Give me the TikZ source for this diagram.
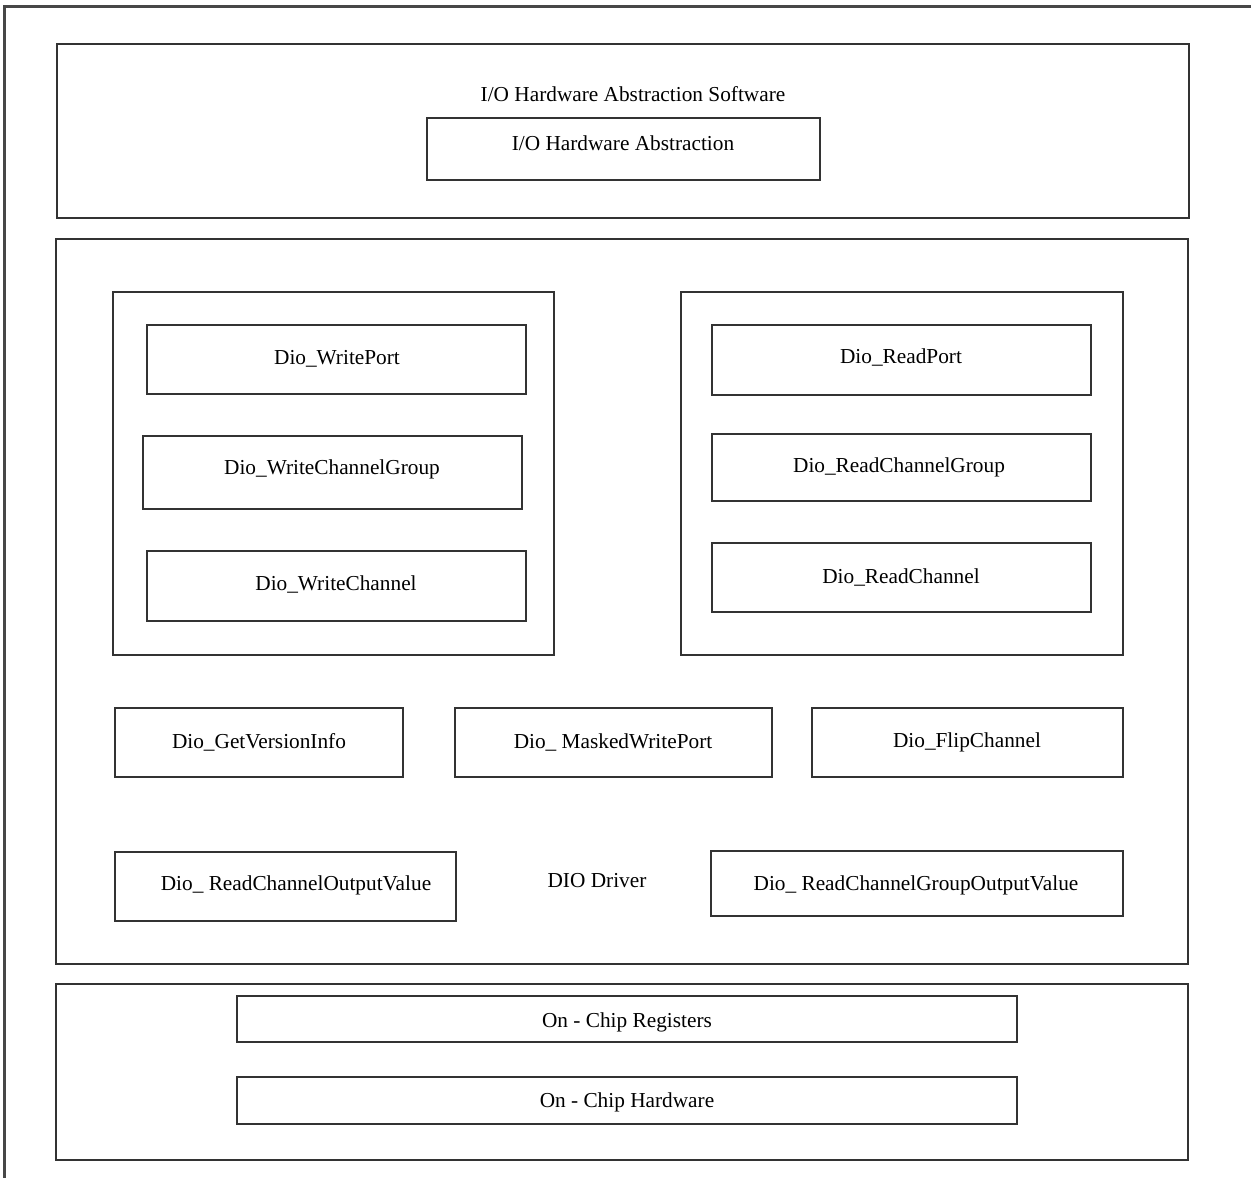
\documentclass[tikz,border=0pt]{standalone}
\usepackage{fontspec}
\setmainfont{Liberation Serif}
\begin{document}
\begin{tikzpicture}[x=1pt,y=-1pt,
  frame/.style={draw=black!80, line width=1.4pt, inner sep=0pt, outer sep=0pt},
  box/.style={frame},
  lbl/.style={inner sep=0pt, yshift=-2pt, font=\fontsize{21.3}{25}\selectfont}]
\useasboundingbox (0,0) rectangle (1251,1178);

% outer border (top and left edges)
\coordinate (oTL) at (4.5,6.5);
\coordinate (oTR) at (1251,6.5);
\coordinate (oBL) at (4.5,1178);
\draw[black!72, line width=2.2pt] (oTR) -- (oTL) -- (oBL);

% I/O hardware abstraction layer
\node[frame, minimum width=1132, minimum height=174] (sw) at (623,131) {};
\node[lbl] (swt) at (633,92) {I/O Hardware Abstraction Software};
\node[box, minimum width=393, minimum height=62] (ioha) at (623.5,149) {};
\node[lbl] (iohat) at (623,141) {I/O Hardware Abstraction};

% DIO driver
\node[frame, minimum width=1132, minimum height=725] (drv) at (622,601.5) {};
\node[lbl] (drvt) at (597,879) {DIO Driver};

% write services
\node[frame, minimum width=441, minimum height=363] (wgrp) at (333.5,473.5) {};
\node[box, minimum width=379, minimum height=69] (wp) at (336.5,359.5) {};
\node[lbl] (wpt) at (337,357) {Dio\_WritePort};
\node[box, minimum width=379, minimum height=73] (wcg) at (332.5,472.5) {};
\node[lbl] (wcgt) at (332,467) {Dio\_WriteChannelGroup};
\node[box, minimum width=379, minimum height=70] (wc) at (336.5,586) {};
\node[lbl] (wct) at (336,582) {Dio\_WriteChannel};

% read services
\node[frame, minimum width=442, minimum height=363] (rgrp) at (902,473.5) {};
\node[box, minimum width=379, minimum height=70] (rp) at (901.5,360) {};
\node[lbl] (rpt) at (901,355) {Dio\_ReadPort};
\node[box, minimum width=379, minimum height=67] (rcg) at (901.5,467.5) {};
\node[lbl] (rcgt) at (899,465) {Dio\_ReadChannelGroup};
\node[box, minimum width=379, minimum height=69] (rc) at (901.5,577.5) {};
\node[lbl] (rct) at (901,575) {Dio\_ReadChannel};

% other services
\node[box, minimum width=288, minimum height=69] (gvi) at (259,742.5) {};
\node[lbl] (gvit) at (259,740) {Dio\_GetVersionInfo};
\node[box, minimum width=317, minimum height=69] (mwp) at (613.5,742.5) {};
\node[lbl] (mwpt) at (613,740) {Dio\_ MaskedWritePort};
\node[box, minimum width=311, minimum height=69] (fc) at (967.5,742.5) {};
\node[lbl] (fct) at (967,740) {Dio\_FlipChannel};
\node[box, minimum width=341, minimum height=69] (rcov) at (285.5,886.5) {};
\node[lbl] (rcovt) at (296,883) {Dio\_ ReadChannelOutputValue};
\node[box, minimum width=412, minimum height=65] (rcgov) at (917,883.5) {};
\node[lbl] (rcgovt) at (916,883) {Dio\_ ReadChannelGroupOutputValue};

% on-chip layer
\node[frame, minimum width=1132, minimum height=176] (hw) at (622,1072) {};
\node[box, minimum width=780, minimum height=46] (reg) at (627,1019) {};
\node[lbl] (regt) at (627,1020) {On - Chip Registers};
\node[box, minimum width=780, minimum height=47] (chip) at (627,1100.5) {};
\node[lbl] (chipt) at (627,1100) {On - Chip Hardware};
\end{tikzpicture}
\end{document}
